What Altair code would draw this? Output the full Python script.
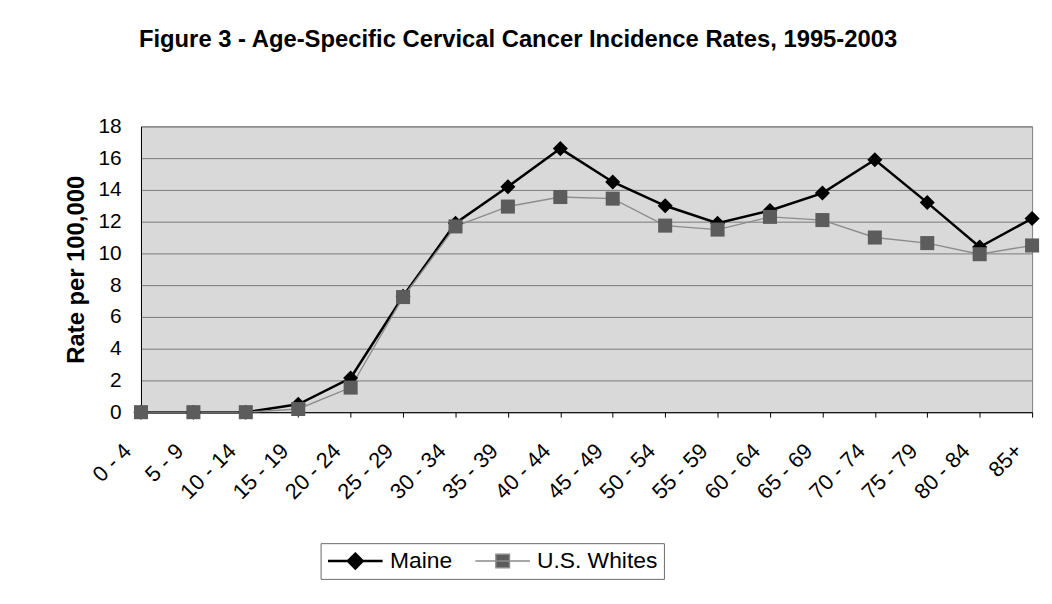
import altair as alt
import pandas as pd

ages = ["0 - 4", "5 - 9", "10 - 14", "15 - 19", "20 - 24", "25 - 29", "30 - 34",
        "35 - 39", "40 - 44", "45 - 49", "50 - 54", "55 - 59", "60 - 64",
        "65 - 69", "70 - 74", "75 - 79", "80 - 84", "85+"]
maine = [0, 0, 0, 0.5, 2.15, 7.3, 11.9, 14.2, 16.6, 14.5, 13.0, 11.9, 12.7,
         13.8, 15.9, 13.2, 10.4, 12.2]
us_whites = [0, 0, 0, 0.2, 1.55, 7.25, 11.7, 12.95, 13.55, 13.45, 11.75, 11.5,
             12.3, 12.1, 11.0, 10.65, 9.95, 10.5]
series_names = ["Maine", "U.S. Whites"]

df = pd.DataFrame({
    "age": ages + ages,
    "rate": maine + us_whites,
    "series": [series_names[0]] * len(ages) + [series_names[1]] * len(ages),
})

FONT = "Liberation Sans"

x_enc = alt.X(
    "age:N", sort=ages,
    scale=alt.Scale(type="point", padding=0),
    axis=alt.Axis(title=None, labelAngle=-45, labelAlign="right",
                  labelBaseline="middle", labelFontSize=22, labelFont=FONT,
                  labelColor="black", labelOffset=-14, labelPadding=30,
                  tickSize=5, tickColor="black", domainColor="black",
                  grid=False, labelOverlap=False),
)
y_enc = alt.Y(
    "rate:Q",
    scale=alt.Scale(domain=[0, 18], nice=False),
    axis=alt.Axis(values=list(range(0, 19, 2)), title="Rate per 100,000",
                  titleFontSize=24, titleFontWeight="bold", titleFont=FONT,
                  titleColor="black", titlePadding=10,
                  labelFontSize=21, labelFont=FONT, labelColor="black",
                  tickSize=0, labelPadding=20, gridColor="#7a7a7a",
                  gridOpacity=1, domainColor="black"),
)

base = alt.Chart(df)

lines = base.mark_line().encode(
    x=x_enc, y=y_enc,
    color=alt.Color("series:N", scale=alt.Scale(domain=series_names, range=["black", "#8c8c8c"]), legend=None),
    strokeWidth=alt.StrokeWidth("series:N", scale=alt.Scale(domain=series_names, range=[2.5, 1.4]), legend=None),
    detail="series:N",
)

points = base.mark_point(filled=True, opacity=1).encode(
    x=x_enc, y=y_enc,
    shape=alt.Shape("series:N", scale=alt.Scale(domain=series_names, range=["diamond", "square"]), legend=None),
    fill=alt.Fill("series:N", scale=alt.Scale(domain=series_names, range=["black", "#5c5c5c"]), legend=None),
    size=alt.Size("series:N", scale=alt.Scale(domain=series_names, range=[230, 200]), legend=None),
)

path_maine = "M-1,0H1M0,-0.27L0.27,0L0,0.27L-0.27,0Z"
path_us = "M-1,0H1M-0.25,-0.25H0.25V0.25H-0.25Z"

leg = alt.Legend(title=None, orient="none", legendX=181, legendY=420,
                 direction="horizontal", symbolSize=3025, clipHeight=24,
                 padding=6, strokeColor="#6a6a6a", fillColor="white",
                 labelFontSize=23, labelFont=FONT, labelColor="black",
                 labelOffset=6, columnPadding=22, symbolOpacity=1)

legend_layer = base.transform_filter("false").transform_calculate(
    key="datum.series"
).mark_point(filled=True, opacity=1).encode(
    x=x_enc, y=y_enc,
    shape=alt.Shape("key:N", scale=alt.Scale(domain=series_names, range=[path_maine, path_us]), legend=leg),
    fill=alt.Fill("key:N", scale=alt.Scale(domain=series_names, range=["black", "#5c5c5c"]), legend=leg),
    stroke=alt.Stroke("key:N", scale=alt.Scale(domain=series_names, range=["black", "#8c8c8c"]), legend=leg),
    strokeWidth=alt.StrokeWidth("key:N", scale=alt.Scale(domain=series_names, range=[2.5, 1.4]), legend=leg),
)

chart = alt.layer(lines, points, legend_layer).resolve_scale(
    shape="independent", fill="independent", stroke="independent", strokeWidth="independent"
).properties(
    width=898, height=288,
    padding={"left": 134, "top": 117, "right": 12, "bottom": 191},
    autosize=alt.AutoSizeParams(type="none"),
    title=alt.TitleParams(
        "Figure 3 - Age-Specific Cervical Cancer Incidence Rates, 1995-2003",
        fontSize=24, font=FONT, fontWeight="bold", color="black",
        anchor="middle", frame="group", dx=-69, offset=45, baseline="alphabetic"),
    background="white",
).configure_view(fill="#d9d9d9", stroke="#808080", strokeWidth=1)

chart.save("out.html", embed_options={"renderer": "svg", "actions": False})
